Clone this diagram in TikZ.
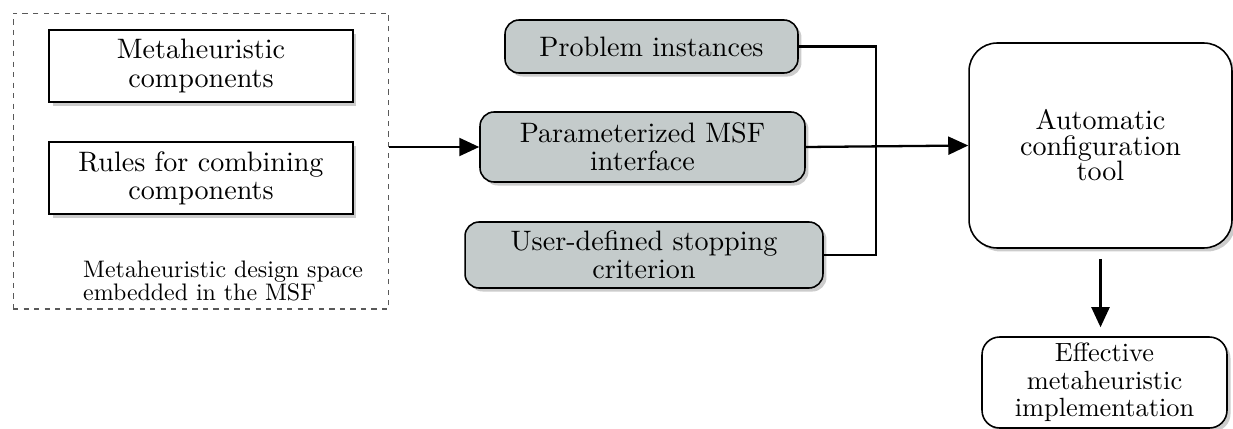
\documentclass[tikz,border=0pt]{standalone}
\usepackage{fontspec}
\setmainfont{lmroman10-regular.otf}
\usepackage{tikz}
\usetikzlibrary{calc}
\usetikzlibrary{arrows.meta}
\usetikzlibrary{shadows}

\definecolor{boxgray}{HTML}{C4CBCB}

\tikzset{
  plainbox/.style={draw=black, line width=0.9pt, fill=white, align=center,
    font=\fontsize{16}{16}\selectfont,
    drop shadow={shadow xshift=2pt, shadow yshift=-2pt, fill=black!20, opacity=1}},
  graybox/.style={plainbox, fill=boxgray, rounded corners=8pt},
  roundbox/.style={plainbox, rounded corners=16pt},
  conn/.style={line width=1.3pt},
  arr/.style={conn, -{Triangle[length=0.4cm, width=0.36cm]}}
}

\begin{document}
\begin{tikzpicture}[x=0.02cm, y=-0.02cm]
\useasboundingbox (0,0) rectangle (1233,429);

% design space
\node[draw=black!65, dashed, line width=0.6pt, minimum width=7.52cm, minimum height=5.92cm] (frame) at (201,161) {};
\node[plainbox, minimum width=6.08cm, minimum height=1.44cm] (comp) at (201,66) {Metaheuristic\\components};
\node[plainbox, minimum width=6.08cm, minimum height=1.44cm] (rules) at (201,178) {Rules for combining\\components};
\node[anchor=west, align=left, font=\fontsize{13.6}{13.2}\selectfont] (space) at (77,281) {Metaheuristic design space\\embedded in the MSF};

% inputs
\node[graybox, minimum width=5.86cm, minimum height=1.06cm] (inst) at (651.5,46.5) {Problem instances};
\node[graybox, minimum width=6.5cm, minimum height=1.4cm] (msf) at (642.5,147) {Parameterized MSF\\interface};
\node[graybox, minimum width=7.16cm, minimum height=1.32cm] (stop) at (644,255) {User-defined stopping\\criterion};

% configurator
\node[roundbox, minimum width=5.26cm, minimum height=4.1cm, font=\fontsize{16}{14.5}\selectfont] (tool) at (1100.5,145.5) {Automatic\\configuration\\tool};
\node[plainbox, rounded corners=10pt, minimum width=4.9cm, minimum height=1.82cm, font=\fontsize{15}{15.6}\selectfont] (impl) at (1104.5,382.5) {Effective\\metaheuristic\\implementation};

\coordinate (bus) at (876,0);

\draw[arr] (msf.west -| frame.east) -- (msf.west);
\draw[conn] (inst.east) -| (bus |- stop.east) -- (stop.east);
\draw[arr] (msf.east) -- (tool.west);
\draw[arr, shorten <=0.2cm, shorten >=0.18cm] (tool.south) -- (tool.south |- impl.north);
\end{tikzpicture}
\end{document}
